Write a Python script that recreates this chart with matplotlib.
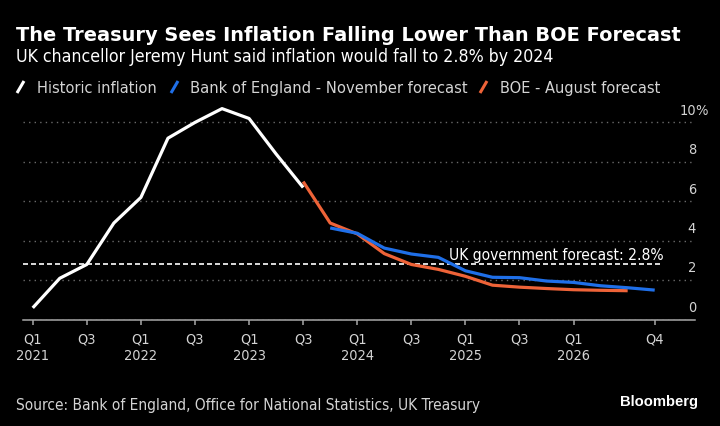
import matplotlib
matplotlib.use("Agg")
import matplotlib.pyplot as plt
from matplotlib import font_manager
from matplotlib.lines import Line2D
from matplotlib.transforms import blended_transform_factory
import pandas as pd

# CPI inflation, % year on year, quarterly
quarters = pd.period_range("2021Q1", "2026Q4", freq="Q")
historic = [0.6, 2.1, 2.8, 4.9, 6.2, 9.2, 10.0, 10.7, 10.2, 8.4, 6.7]
august_start = "2023Q3"
august = [7.0, 4.9, 4.35, 3.35, 2.8, 2.55, 2.2, 1.75, 1.65, 1.58, 1.52, 1.49, 1.47]
november_start = "2023Q4"
november = [4.65, 4.38, 3.63, 3.33, 3.16, 2.48, 2.15, 2.13, 1.96, 1.89, 1.72, 1.62, 1.5]
gov_forecast = 2.8
y_ticks = [0, 2, 4, 6, 8, 10]

title = "The Treasury Sees Inflation Falling Lower Than BOE Forecast"
subtitle = "UK chancellor Jeremy Hunt said inflation would fall to 2.8% by 2024"
legend_labels = ["Historic inflation", "Bank of England - November forecast", "BOE - August forecast"]
source = "Source: Bank of England, Office for National Statistics, UK Treasury"

# colours
bg = "black"
white = "#ffffff"
blue = "#1f6fe8"
orange = "#ee6338"
text_grey = "#d4d4d4"
grid_grey = "#6a6a6a"
axis_grey = "#a8a8a8"

W, H = 720, 427

# Bloomberg's font is narrow; use a condensed face when one is installed
fonts = font_manager.fontManager.ttflist
names = {f.name for f in fonts}
if "Liberation Sans Narrow" in names:
    plt.rcParams["font.family"] = "Liberation Sans Narrow"
elif any(f.name == "DejaVu Sans" and f.stretch == "condensed" for f in fonts):
    plt.rcParams["font.family"] = "DejaVu Sans"
    plt.rcParams["font.stretch"] = "condensed"
else:
    plt.rcParams["font.family"] = "DejaVu Sans"

fig = plt.figure(figsize=(W / 100, H / 100), dpi=100, facecolor=bg)
ax = fig.add_axes([23 / W, 1 - 320.7 / H, 672 / W, 217 / H], facecolor=bg)
ax.set_xlim(-0.36, 24.49)
ax.set_ylim(0, 11)
renderer = fig.canvas.get_renderer()


# scale a text so it spans the given number of pixels
def fit_width(txt, width_px):
    w = txt.get_window_extent(renderer).width
    txt.set_fontsize(txt.get_fontsize() * width_px / w)
    return txt


def fx(px):
    return px / W


def fy(py):
    return 1 - py / H


pos = {q: i for i, q in enumerate(quarters)}
hist_x = list(range(len(historic)))
a0 = pos[pd.Period(august_start, "Q")]
n0 = pos[pd.Period(november_start, "Q")]
aug_x = list(range(a0, a0 + len(august)))
nov_x = list(range(n0, n0 + len(november)))

ax.plot(aug_x, august, color=orange, lw=2.3, solid_capstyle="butt", zorder=3)
ax.plot(nov_x, november, color=blue, lw=2.3, solid_capstyle="butt", zorder=4)
ax.plot(hist_x, historic, color=white, lw=2.3, solid_capstyle="butt", zorder=5)

# government forecast line
ax.hlines(gov_forecast, -0.36, 23.31, colors=white, lw=1.2, linestyles=(0, (3, 1.8)), zorder=2)
gov_txt = ax.annotate("UK government forecast: 2.8%", (23.33, gov_forecast), xytext=(0, 3.6),
                      textcoords="offset points", ha="right", va="baseline", color=white, fontsize=11)
fit_width(gov_txt, 214)

# grid and axes
ax.set_yticks(y_ticks)
ax.yaxis.grid(True, linestyle=(0, (1, 3)), color=grid_grey, lw=1)
ax.tick_params(axis="y", left=False, labelleft=False)
for side in ["top", "right", "left"]:
    ax.spines[side].set_visible(False)
ax.spines["bottom"].set_color(axis_grey)
ax.spines["bottom"].set_linewidth(1.1)

last = len(quarters) - 1
tick_pos = [i for i, q in enumerate(quarters) if q.quarter == 1 or (q.quarter == 3 and q.year < quarters[last].year)]
tick_pos.append(last)
tick_lab = []
for i in tick_pos:
    q = quarters[i]
    if i == last:
        tick_lab.append(f"Q{q.quarter}")
    elif q.quarter == 1:
        tick_lab.append(f"Q1\n{q.year}")
    else:
        tick_lab.append("Q3")

probe = fig.text(0, 0, "2021", fontsize=10)
fit_width(probe, 33)
label_size = probe.get_fontsize()
probe.remove()

ax.set_xticks(tick_pos)
ax.set_xticklabels(tick_lab, linespacing=1.15)
ax.tick_params(axis="x", colors=axis_grey, labelcolor=text_grey, length=3.8, width=1.1,
               pad=5, labelsize=label_size)

# y labels sit above the gridlines on the right
ytrans = blended_transform_factory(ax.transAxes, ax.transData)
for v in y_ticks:
    ax.annotate(str(v), (1.0, v), xycoords=ytrans, xytext=(0.7, 6.3), textcoords="offset points",
                ha="right", va="baseline", color=text_grey, fontsize=label_size)
ax.annotate("%", (1.0, y_ticks[-1]), xycoords=ytrans, xytext=(0.0, 6.3), textcoords="offset points",
            ha="left", va="baseline", color=text_grey, fontsize=label_size)

# title block
t = fig.text(fx(16), fy(41), title, color=white, fontsize=13, fontweight="bold",
             family="DejaVu Sans", fontstretch="normal", va="baseline")
fit_width(t, 661)
s = fig.text(fx(16), fy(61.5), subtitle, color=white, fontsize=12, va="baseline")
fit_width(s, 537)

# legend made of slashes and labels
legend_items = [
    (white, 17, 37, 120),
    (blue, 171, 190, 277),
    (orange, 480, 500, 160),
]
for (colour, sx, lx, lw_px), label in zip(legend_items, legend_labels):
    fig.add_artist(Line2D([fx(sx), fx(sx + 7)], [fy(94), fy(82)], transform=fig.transFigure,
                          color=colour, lw=2.2, solid_capstyle="butt"))
    lt = fig.text(fx(lx), fy(93), label, color=text_grey, fontsize=12, va="baseline")
    fit_width(lt, lw_px)

# footer
src = fig.text(fx(16), fy(410), source, color=text_grey, fontsize=11, va="baseline")
fit_width(src, 462)
bb = fig.text(fx(698), fy(406.5), "Bloomberg", color=white, fontsize=10, fontweight="bold",
              family="Liberation Sans", fontstretch="normal", ha="right", va="baseline")
fit_width(bb, 78)

fig.savefig("out.png", dpi=100, facecolor=bg)
